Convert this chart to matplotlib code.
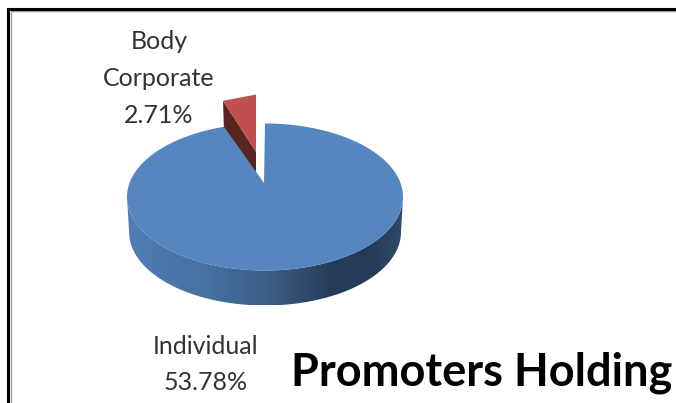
import matplotlib
matplotlib.use('Agg')
import matplotlib.pyplot as plt
import numpy as np
from matplotlib.colors import LinearSegmentedColormap
from matplotlib.patches import PathPatch, Polygon
from matplotlib.path import Path

# Datos del grafico
categorias = ['Individual', 'Body\nCorporate']
valores = [53.78, 2.71]
etiquetas = ['53.78%', '2.71%']
titulo = 'Promoters Holding'

# Geometria del pastel (en pixeles de la imagen)
cx, cy = 265, 197
rx, ry = 138, 73.5
vertice = (264, 183)
prof = 35
explode = (-8, -31)

fig = plt.figure(figsize=(6.76, 4.03), dpi=100)
ax = fig.add_axes([0, 0, 1, 1])
ax.set_xlim(0, 676)
ax.set_ylim(403, 0)
ax.axis('off')

plt.rcParams['font.family'] = ['Lato', 'DejaVu Sans']

# Angulos a partir de los valores (sentido horario desde las 12)
fracciones = np.array(valores) / sum(valores)
ang_blue = 360 * fracciones[0]


def arco(a0, a1, n=200, dx=0, dy=0, rx_=rx, ry_=ry):
    t = np.radians(np.linspace(a0, a1, n))
    return np.column_stack([cx + dx + rx_ * np.sin(t), cy + dy - ry_ * np.cos(t)])


# Lado del pastel con degradado
arr_sup = arco(90, 270)
arr_inf = arco(270, 90, dx=0, dy=prof, rx_=rx - 2, ry_=ry)
lado = Path(np.vstack([arr_sup, arr_inf, arr_sup[:1]]))
cmap = LinearSegmentedColormap.from_list('lado', [
    (0.0, '#4f7fb6'), (0.30, '#46709f'), (0.55, '#385a80'),
    (0.75, '#253b57'), (0.90, '#263d59'), (1.0, '#2e4a6b')])
grad = np.linspace(0, 1, 256).reshape(1, -1)
img = ax.imshow(grad, cmap=cmap, extent=(cx - rx, cx + rx, cy + prof + ry, cy - 5),
                aspect='auto', zorder=1)
img.set_clip_path(PathPatch(lado, transform=ax.transData))
ax.set_xlim(0, 676)
ax.set_ylim(403, 0)

# Porcion roja desplazada
arco_rojo = arco(ang_blue, 360)
sx, sy = vertice[0] + explode[0], vertice[1] + explode[1]
p_ext = arco_rojo[0] + np.array(explode) + np.array([7, 5])
p_der = np.array([sx, arco_rojo[-1][1] + explode[1] + 2])
# cara lateral oscura
ax.add_patch(Polygon([p_ext, (sx, sy), (sx, sy + 20), (p_ext[0] + 1, p_ext[1] + 32)],
                     closed=True, fc='#5a2422', ec='none', zorder=2))
# cara superior
ax.add_patch(Polygon([p_ext, p_der, (sx, sy)], closed=True, fc='#c0504d', ec='none', zorder=2))

# Cara superior azul
arco_azul = arco(0, ang_blue)
ax.add_patch(Polygon(np.vstack([[vertice], arco_azul]), closed=True,
                     fc='#5586c0', ec='none', zorder=3))

# Etiquetas
ax.text(159, 78.5, categorias[1] + '\n' + etiquetas[1], ha='center', va='center',
        fontsize=18, color='#333333', linespacing=1.76, zorder=5)
ax.text(206, 364.5, categorias[0] + '\n' + etiquetas[0], ha='center', va='center',
        fontsize=18, color='#333333', linespacing=1.68, zorder=5)
ax.text(482, 373, titulo, ha='center', va='center', fontsize=32.5, fontweight='bold',
        color='black', zorder=5)

# Marco
ax.plot([10.5, 10.5, 676], [403, 10.5, 10.5], color='#a0a0a0', lw=1, solid_joinstyle='miter', zorder=6)
ax.plot([7.5, 7.5, 676], [403, 8.7, 8.7], color='black', lw=2.2, solid_joinstyle='miter', zorder=6)

fig.savefig('out.png', dpi=100)
